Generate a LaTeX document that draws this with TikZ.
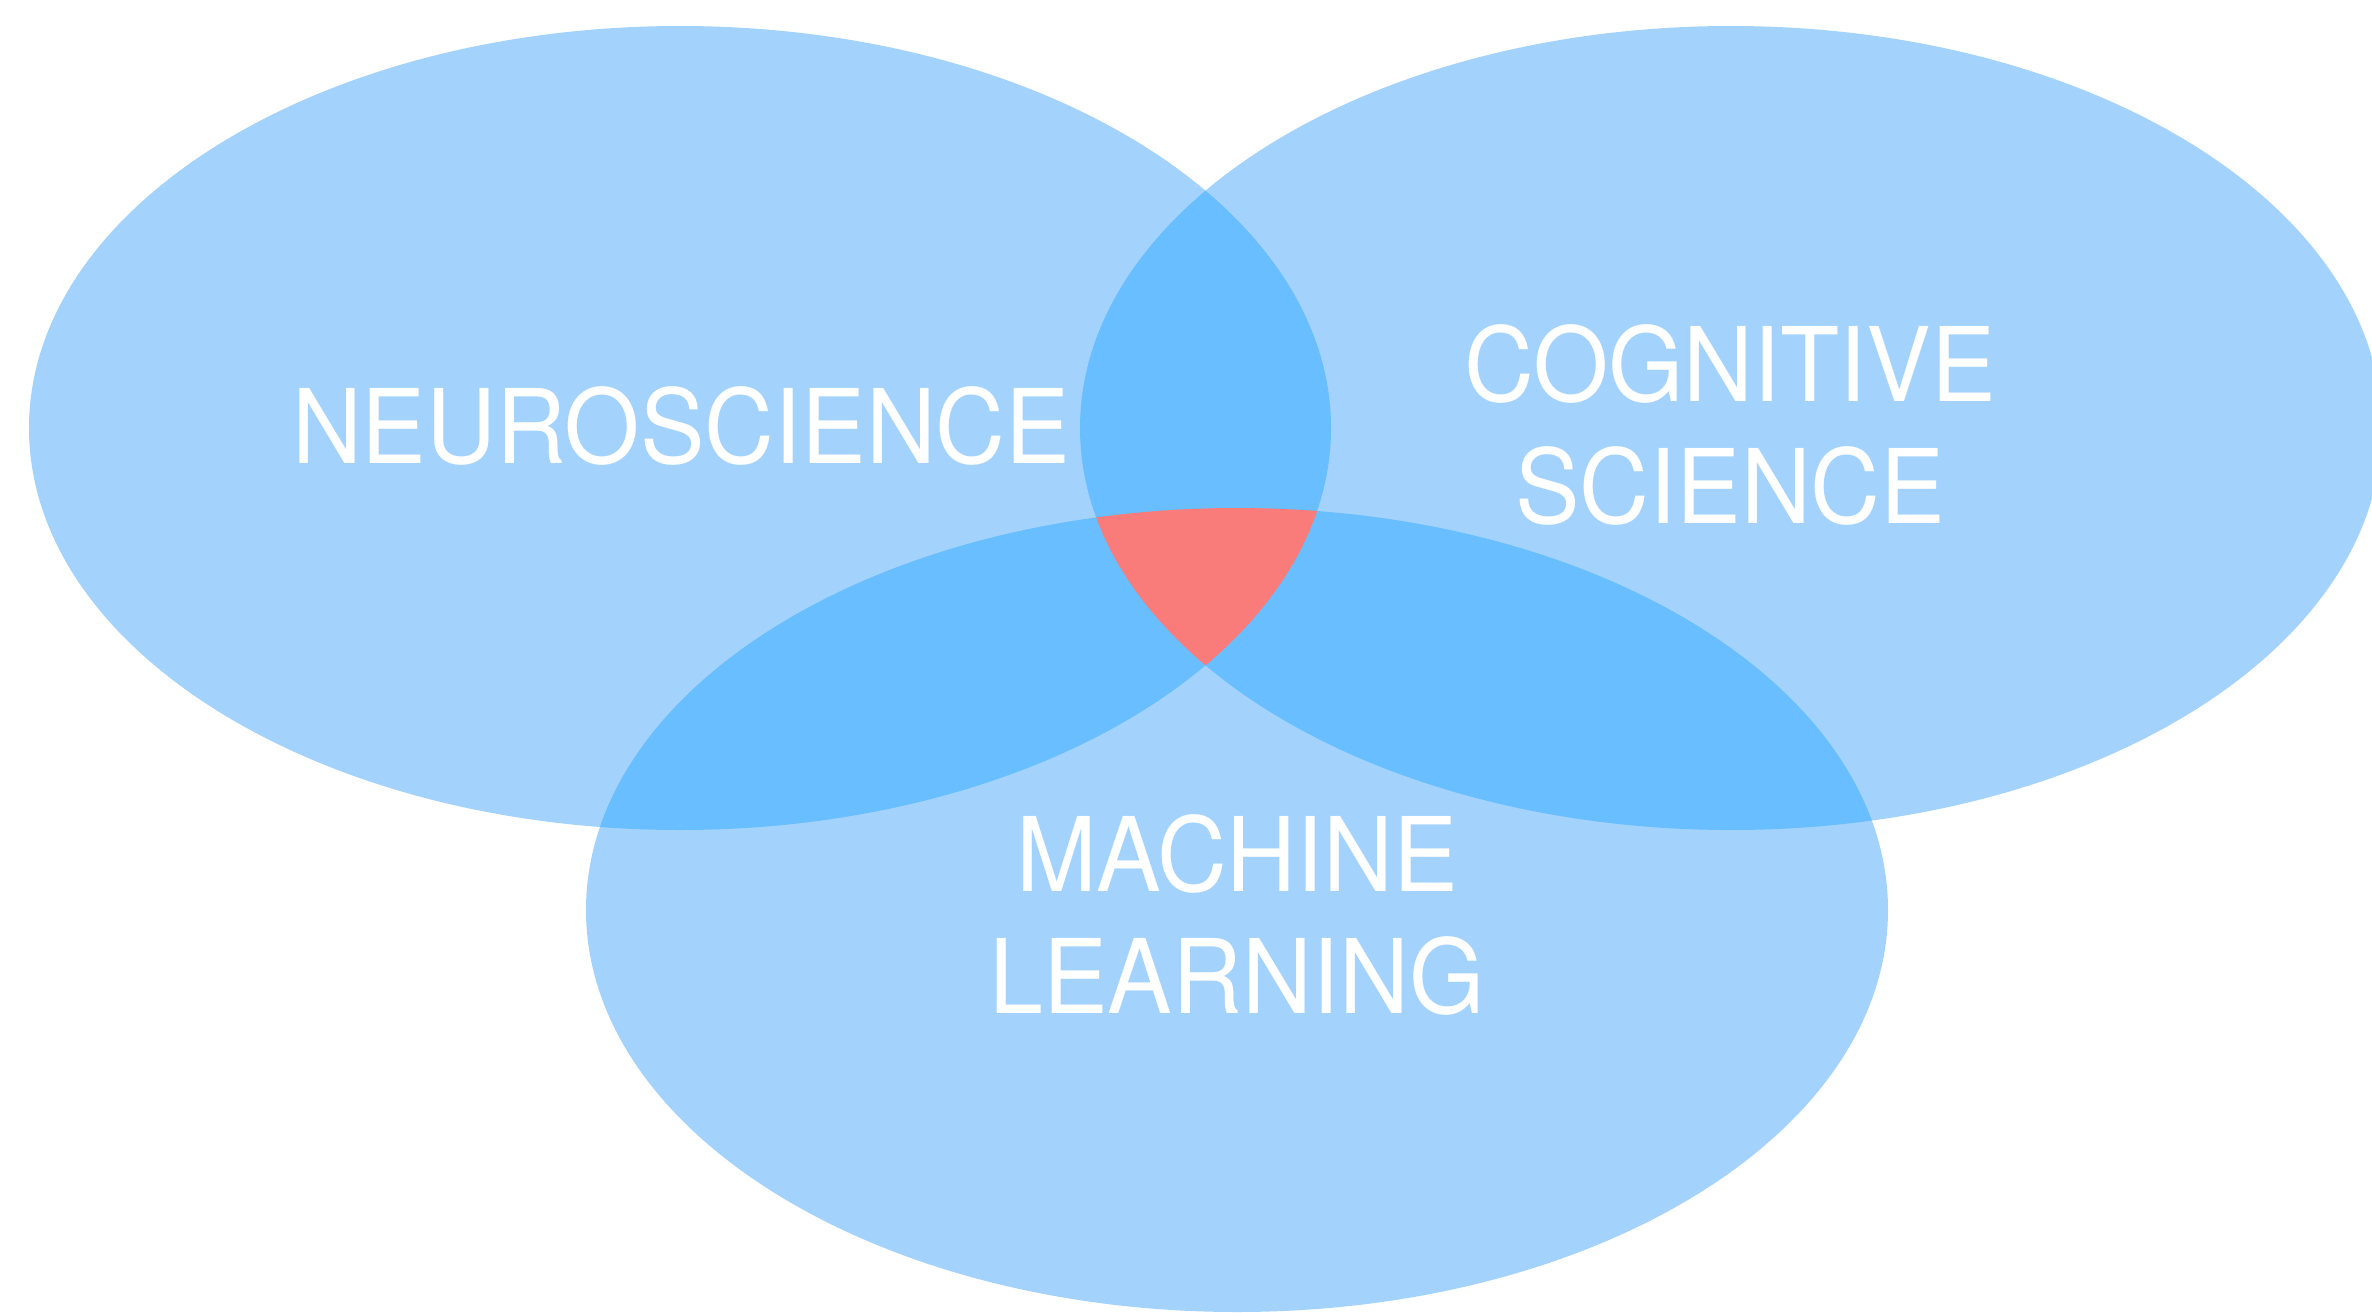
\documentclass[tikz,border=0pt]{standalone}
\usepackage{fontspec}
\setmainfont{TeX Gyre Heros}[FakeStretch=0.94]
\usepackage{xcolor}
\definecolor{colset}{HTML}{A3D3FD}
\definecolor{colpair}{HTML}{68BEFE}
\definecolor{colcore}{HTML}{FA7C7A}

\begin{document}
\begin{tikzpicture}[setsize/.style={x radius=6.51, y radius=4.02},
    settext/.style={text=white, align=center, inner sep=0pt, font=\fontsize{29.3}{34.7}\selectfont}]
  \useasboundingbox (0,0) rectangle (23.72,13.12);
  \coordinate (neuro) at (6.80,8.84);
  \coordinate (cogsci) at (17.31,8.84);
  \coordinate (ml) at (12.37,4.02);
  \foreach \c in {neuro,cogsci,ml} \fill[colset, setsize] (\c) ellipse;
  % two fields overlap
  \foreach \a/\b in {neuro/cogsci,neuro/ml,cogsci/ml} {
    \begin{scope}
      \clip[setsize] (\a) ellipse;
      \fill[colpair, setsize] (\b) ellipse;
    \end{scope}
  }
  % all three
  \begin{scope}
    \clip[setsize] (neuro) ellipse;
    \clip[setsize] (cogsci) ellipse;
    \fill[colcore, setsize] (ml) ellipse;
  \end{scope}
  \node[settext] (neurolab) at (6.81,8.86) {NEUROSCIENCE};
  \node[settext] (cogscilab) at (17.30,8.87) {COGNITIVE\\SCIENCE};
  \node[settext] (mllab) at (12.37,3.97) {MACHINE\\LEARNING};
\end{tikzpicture}
\end{document}
